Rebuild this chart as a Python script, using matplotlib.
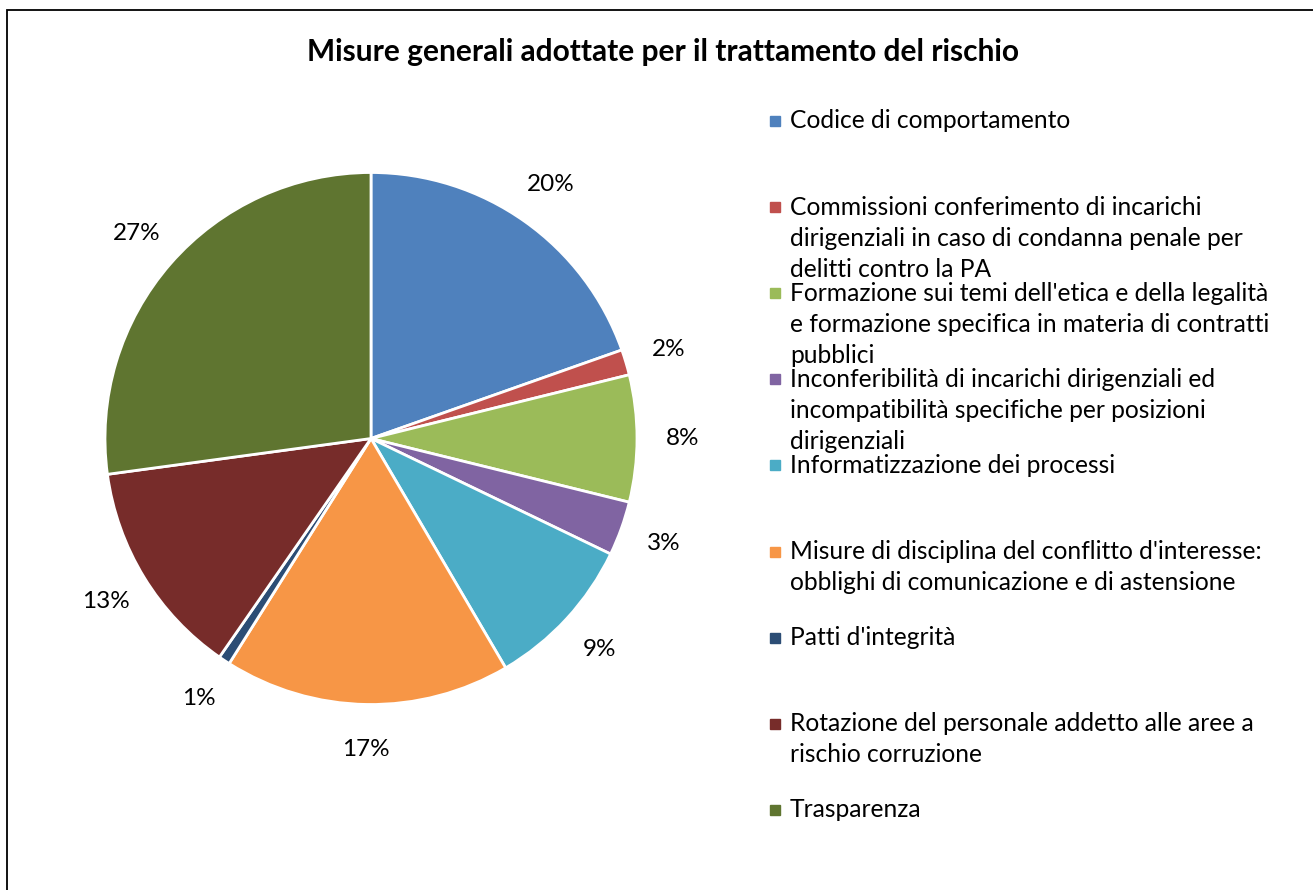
import matplotlib.pyplot as plt
from matplotlib.patches import Rectangle

# Quote (%) delle misure generali
categorie = [
    "Codice di comportamento",
    "Commissioni conferimento di incarichi\ndirigenziali in caso di condanna penale per\ndelitti contro la PA",
    "Formazione sui temi dell'etica e della legalità\ne formazione specifica in materia di contratti\npubblici",
    "Inconferibilità di incarichi dirigenziali ed\nincompatibilità specifiche per posizioni\ndirigenziali",
    "Informatizzazione dei processi",
    "Misure di disciplina del conflitto d'interesse:\nobblighi di comunicazione e di astensione",
    "Patti d'integrità",
    "Rotazione del personale addetto alle aree a\nrischio corruzione",
    "Trasparenza",
]
valori = [19.6, 1.55, 7.7, 3.3, 9.4, 17.4, 0.7, 13.2, 27.15]
colori = ["#4F81BD", "#C0504D", "#9BBB59", "#8064A2", "#4BACC6",
          "#F79646", "#2C4D75", "#772C2A", "#5F7530"]

plt.rcParams['font.family'] = ['Lato', 'DejaVu Sans']

W, H = 1313, 890
fig = plt.figure(figsize=(W / 100, H / 100), dpi=100)

# cornice del grafico
fig.add_artist(Rectangle((7 / W, -0.1), 2, (H - 10) / H + 0.1, transform=fig.transFigure,
                         fill=False, edgecolor='black', linewidth=1.3, clip_on=False))

# torta
cx, cy, r = 371, 438.5, 266
ax = fig.add_axes([(cx - r) / W, (H - cy - r) / H, 2 * r / W, 2 * r / H])
wedges, texts, autotexts = ax.pie(valori, colors=colori, startangle=90, counterclock=False,
                                  autopct='%.0f%%', pctdistance=1.17,
                                  wedgeprops=dict(edgecolor='white', linewidth=2),
                                  textprops=dict(fontsize=17.5, color='black'))
ax.set_xlim(-1, 1)
ax.set_ylim(-1, 1)
ax.set_aspect('auto')
ax.axis('off')

fig.text(663 / W, 1 - 52 / H, "Misure generali adottate per il trattamento del rischio",
         ha='center', va='center', fontsize=21.5, fontweight='bold')

# legenda
y0, passo, riga = 121, 86.1, 31
for i, (nome, col) in enumerate(zip(categorie, colori)):
    y = y0 + i * passo
    fig.add_artist(Rectangle(((775 - 5) / W, 1 - (y + 5) / H), 10 / W, 10 / H,
                             transform=fig.transFigure, color=col))
    for k, testo in enumerate(nome.split("\n")):
        fig.text(790 / W, 1 - (y + k * riga) / H, testo, ha='left', va='center', fontsize=17.7)

fig.savefig("out.png", dpi=100)
